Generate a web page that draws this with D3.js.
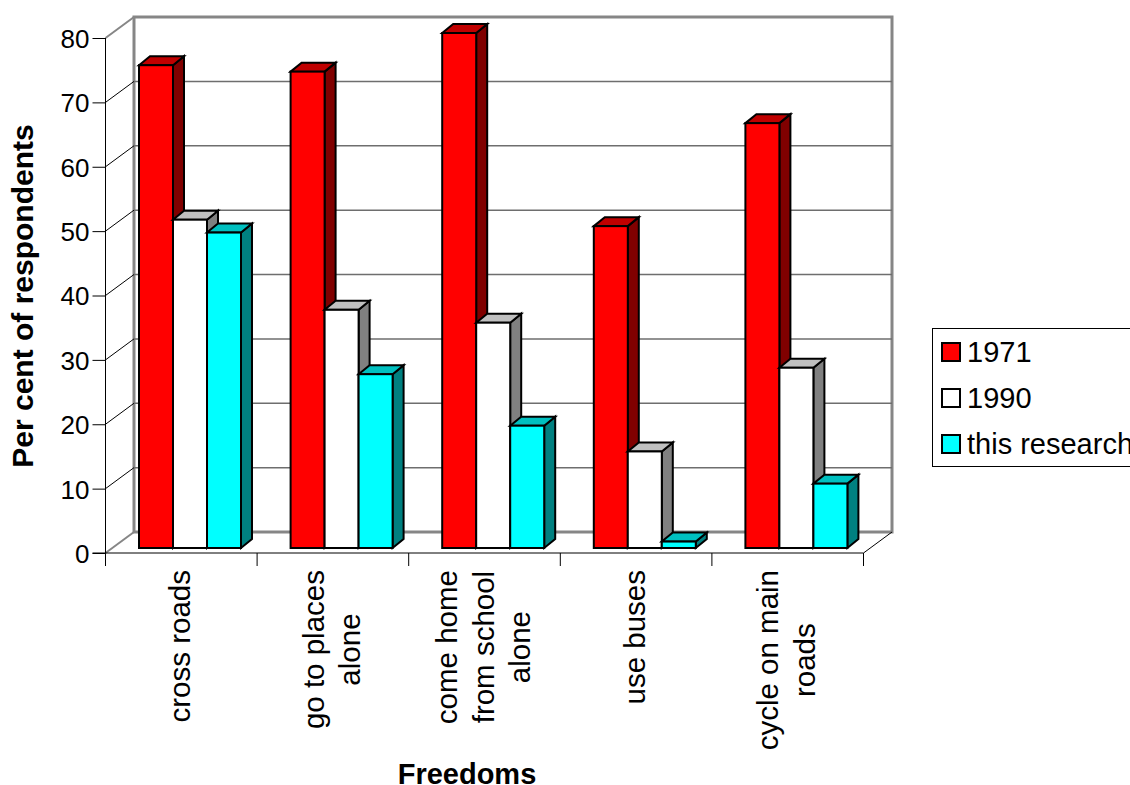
<!DOCTYPE html>
<html>
<head>
<meta charset="utf-8">
<script src="https://cdnjs.cloudflare.com/ajax/libs/d3/7.8.5/d3.min.js"></script>
<style>
html,body{margin:0;padding:0;background:#fff;overflow:hidden}
text{font-family:"Liberation Sans",Arial,sans-serif;fill:#000}
</style>
</head>
<body>
<svg id="chart" width="1130" height="785"></svg>
<script>
// Survey results: share of children allowed each freedom, by survey year
const categories = ["cross roads", "go to places alone", "come home from school alone", "use buses", "cycle on main roads"];
const categoryLines = [["cross roads"], ["go to places", "alone"], ["come home", "from school", "alone"], ["use buses"], ["cycle on main", "roads"]];
const seriesNames = ["1971", "1990", "this research"];
const values1971 = [75, 74, 80, 50, 66];
const values1990 = [51, 37, 35, 15, 28];
const valuesThisResearch = [49, 27, 19, 1, 10];
const yTicks = [0, 10, 20, 30, 40, 50, 60, 70, 80];
const seriesValues = [values1971, values1990, valuesThisResearch];
const seriesFront = ["#ff0000", "#ffffff", "#00ffff"];
const seriesTop = ["#c00000", "#c0c0c0", "#00c0c0"];
const seriesSide = ["#800000", "#808080", "#008080"];

const svg = d3.select("#chart");

// Front plane of the box and its shift toward the back wall
const y = d3.scaleLinear().domain([0, 80]).range([553, 38]);
const x = d3.scaleBand().domain(categories).range([105.5, 863.5]);
const back = {dx: 28.5, dy: -21};
const barShift = {dx: 33.5, dy: -5};
const barWidth = 34;
const barDepth = {dx: 11, dy: -9};
const xSeries = d3.scaleBand().domain(d3.range(3)).range([0, barWidth * 3]);

const [x0, x1] = x.range();
const walls = svg.append("g");

// Back wall and floor outline
walls.append("path")
  .attr("d", `M${x0 + back.dx},${y(0) + back.dy}V${y(80) + back.dy}H${x1 + back.dx}V${y(0) + back.dy}Z`)
  .attr("fill", "#fff").attr("stroke", "#868686").attr("stroke-width", 3);
walls.append("line")
  .attr("x1", x0).attr("y1", y(80)).attr("x2", x0 + back.dx).attr("y2", y(80) + back.dy)
  .attr("stroke", "#868686").attr("stroke-width", 2);
walls.append("line")
  .attr("x1", x0).attr("y1", y(0)).attr("x2", x0 + back.dx).attr("y2", y(0) + back.dy)
  .attr("stroke", "#868686").attr("stroke-width", 2);
walls.append("line")
  .attr("x1", x1).attr("y1", y(0)).attr("x2", x1 + back.dx).attr("y2", y(0) + back.dy)
  .attr("stroke", "#000").attr("stroke-width", 1);

// Gridlines climb the side wall, then run across the back wall
const inner = yTicks.slice(1, -1);
walls.selectAll(".side").data(inner).join("line").attr("class", "side")
  .attr("x1", x0).attr("y1", d => y(d)).attr("x2", x0 + back.dx).attr("y2", d => y(d) + back.dy)
  .attr("stroke", "#000").attr("stroke-width", 1);
walls.selectAll(".grid").data(inner).join("line").attr("class", "grid")
  .attr("x1", x0 + back.dx).attr("y1", d => y(d) + back.dy).attr("x2", x1 + back.dx).attr("y2", d => y(d) + back.dy)
  .attr("stroke", "#6e6e6e").attr("stroke-width", 1.5);

// Axes
const yAxis = d3.axisLeft(y).tickValues(yTicks).tickSize(13).tickPadding(3);
const yG = svg.append("g").attr("transform", `translate(${x0},0)`).call(yAxis);
yG.selectAll("text").style("font-size", "26px").attr("dy", "0.36em");
yG.selectAll("line,path").attr("stroke", "#000");
yG.select(".domain").attr("d", `M0,${y(80)}V${y(0)}`);

const baseG = svg.append("g");
baseG.append("line").attr("x1", x0 - 13).attr("x2", x1).attr("y1", y(0)).attr("y2", y(0)).attr("stroke", "#000");
const edges = categories.map(c => x(c)).concat([x1]);
baseG.selectAll(".edge").data(edges).join("line").attr("class", "edge")
  .attr("x1", d => d).attr("x2", d => d).attr("y1", y(0)).attr("y2", y(0) + 13)
  .attr("stroke", "#000");

// Bars: side and top faces first, then the front face
const bars = svg.append("g").attr("stroke", "#000").attr("stroke-width", 2).attr("stroke-linejoin", "miter");
categories.forEach((c, ci) => {
  seriesValues.forEach((vals, si) => {
    const v = vals[ci];
    const left = x(c) + barShift.dx + xSeries(si);
    const right = left + barWidth;
    const base = y(0) + barShift.dy;
    const top = y(v) + barShift.dy;
    const g = bars.append("g");
    g.append("path")
      .attr("d", `M${right},${top}L${right + barDepth.dx},${top + barDepth.dy}V${base + barDepth.dy}L${right},${base}Z`)
      .attr("fill", seriesSide[si]);
    g.append("path")
      .attr("d", `M${left},${top}L${left + barDepth.dx},${top + barDepth.dy}H${right + barDepth.dx}L${right},${top}Z`)
      .attr("fill", seriesTop[si]);
    g.append("rect")
      .attr("x", left).attr("y", top).attr("width", barWidth).attr("height", base - top)
      .attr("fill", seriesFront[si]);
  });
});

// Category labels, rotated, with each line centred in its block
const labels = svg.append("g");
const labelTop = 570;
const lineStep = 36.7;
categories.forEach((c, ci) => {
  const lines = categoryLines[ci];
  const cx = x(c) + x.bandwidth() / 2 - 0.5;
  const g = labels.append("g");
  const texts = g.selectAll("text").data(lines).join("text")
    .style("font-size", "29.5px")
    .attr("text-anchor", "middle")
    .text(d => d);
  let longest = 0;
  texts.each(function () { longest = Math.max(longest, this.getComputedTextLength()); });
  const mid = labelTop + longest / 2;
  texts.attr("transform", (d, i) => {
    const px = cx + (i - (lines.length - 1) / 2) * lineStep + 9.5;
    return `translate(${px},${mid}) rotate(-90)`;
  });
});

// Axis titles
svg.append("text").attr("text-anchor", "middle")
  .attr("transform", "translate(33,296) rotate(-90)")
  .style("font-size", "30px").style("font-weight", "bold").text("Per cent of respondents");
svg.append("text").attr("text-anchor", "middle")
  .attr("x", 467).attr("y", 784)
  .style("font-size", "29px").style("font-weight", "bold").text("Freedoms");

// Legend box runs off the right edge
const legend = svg.append("g");
legend.append("rect").attr("x", 932.5).attr("y", 328.5).attr("width", 260).attr("height", 138)
  .attr("fill", "#fff").attr("stroke", "#000");
const legendY = d3.scalePoint().domain(seriesNames).range([352, 444]);
seriesNames.forEach((name, i) => {
  legend.append("rect")
    .attr("x", 942).attr("y", legendY(name) - 9).attr("width", 18).attr("height", 18)
    .attr("fill", seriesFront[i]).attr("stroke", "#000").attr("stroke-width", 2);
  legend.append("text").attr("x", 967).attr("y", legendY(name) + 10)
    .style("font-size", "29px").text(name);
});
</script>
</body>
</html>
